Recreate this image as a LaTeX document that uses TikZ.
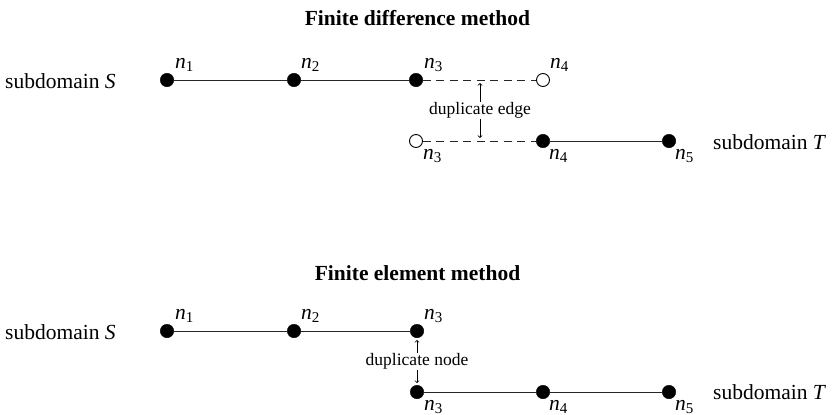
\documentclass[tikz,border=0pt]{standalone}
\usepackage{fontspec}
\setmainfont{Liberation Serif}
\newcommand{\nl}[1]{\textit{n}\textsubscript{#1}}
\begin{document}
\begin{tikzpicture}[x=1pt,y=-1pt,
  font=\fontsize{21.5}{25}\selectfont,
  dot/.style={circle,fill=black,draw=black,inner sep=0pt,minimum size=13.5pt},
  odot/.style={circle,fill=white,draw=black,line width=0.9pt,inner sep=0pt,minimum size=13pt},
  edge/.style={line width=1pt,black!85},
  dupedge/.style={line width=1pt,black!85,dash pattern=on 8pt off 5.5pt},
  dup/.style={line width=0.8pt,<->,>=to},
  lbl/.style={anchor=base west,inner sep=0pt},
  small/.style={font=\fontsize{17.5}{20}\selectfont,fill=white,inner sep=1pt},
  title/.style={font=\fontsize{21.5}{25}\selectfont\bfseries,anchor=base,inner sep=0pt}]
\useasboundingbox (0,0) rectangle (833,415);
% ---------- Finite difference ----------
\node[title] (t1) at (417.5,25) {Finite difference method};
\node[lbl] (sS1) at (5,88) {subdomain \textit{S}};
\node[dot] (a1) at (167,80) {};
\node[dot] (a2) at (294,80) {};
\node[dot] (a3) at (416,80) {};
\node[odot] (a4) at (543,80) {};
\node[odot] (b3) at (416,141) {};
\node[dot] (b4) at (543,141) {};
\node[dot] (b5) at (669,141) {};
\node[lbl] (sT1) at (713,149) {subdomain \textit{T}};
\draw[edge] (a1) -- (a2);
\draw[edge] (a2) -- (a3);
\draw[dupedge] (a3) -- (a4);
\draw[dupedge] (b3) -- (b4);
\draw[edge] (b4) -- (b5);
\node[lbl] (la1) at (175,68) {\nl{1}};
\node[lbl] (la2) at (301,68) {\nl{2}};
\node[lbl] (la3) at (424,68) {\nl{3}};
\node[lbl] (la4) at (550,68) {\nl{4}};
\node[lbl] (lb3) at (423,159) {\nl{3}};
\node[lbl] (lb4) at (549,159) {\nl{4}};
\node[lbl] (lb5) at (675,159) {\nl{5}};
\coordinate (e1) at (480,83);
\coordinate (e2) at (480,138);
\draw[dup] (e1) -- (e2) node[midway,small] (de) {duplicate edge};
% ---------- Finite element ----------
\node[title] (t2) at (417.5,280) {Finite element method};
\node[lbl] (sS2) at (5,339) {subdomain \textit{S}};
\node[dot] (c1) at (167,331) {};
\node[dot] (c2) at (294,331) {};
\node[dot] (c3) at (417,331) {};
\node[dot] (d3) at (417,392) {};
\node[dot] (d4) at (543,392) {};
\node[dot] (d5) at (669,392) {};
\node[lbl] (sT2) at (713,399) {subdomain \textit{T}};
\draw[edge] (c1) -- (c2);
\draw[edge] (c2) -- (c3);
\draw[edge] (d3) -- (d4);
\draw[edge] (d4) -- (d5);
\node[lbl] (lc1) at (175,319) {\nl{1}};
\node[lbl] (lc2) at (301,319) {\nl{2}};
\node[lbl] (lc3) at (424,319) {\nl{3}};
\node[lbl] (ld3) at (424,410) {\nl{3}};
\node[lbl] (ld4) at (549,410) {\nl{4}};
\node[lbl] (ld5) at (675,410) {\nl{5}};
\draw[dup,shorten <=2pt,shorten >=2pt] (c3) -- (d3) node[midway,small] (dn) {duplicate node};
\end{tikzpicture}
\end{document}
